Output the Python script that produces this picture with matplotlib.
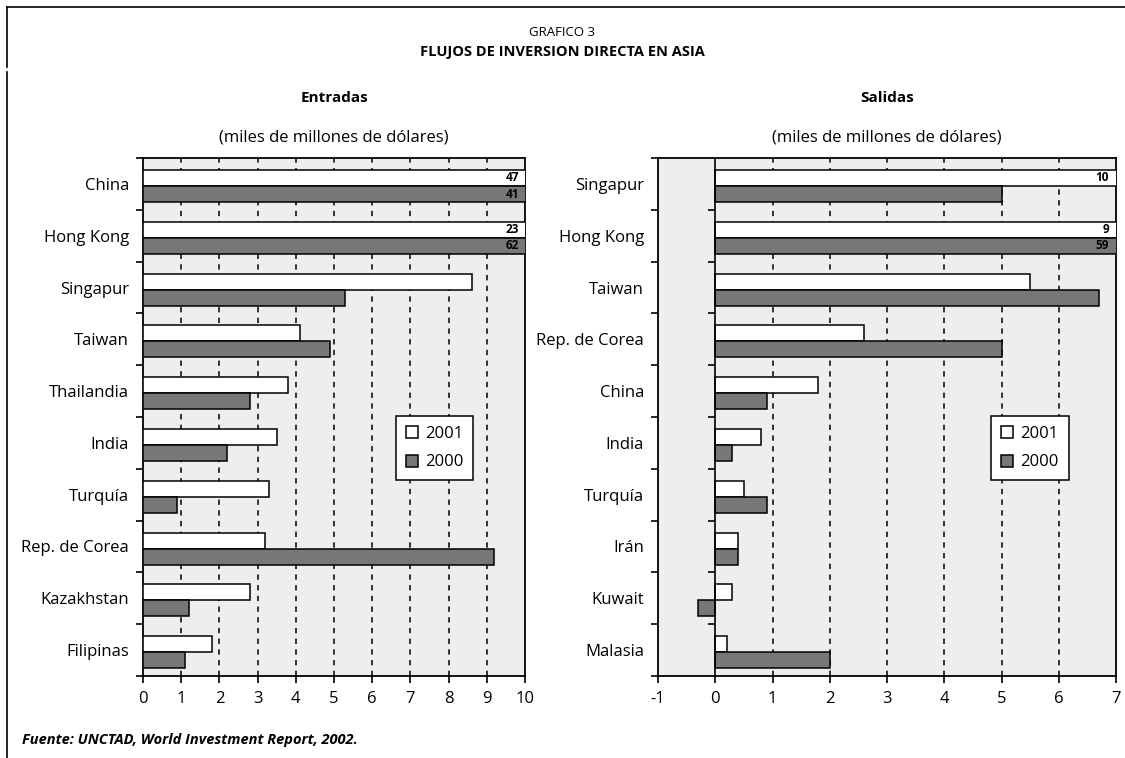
import matplotlib.pyplot as plt
import numpy as np

plt.rcParams['font.family'] = ['Open Sans', 'DejaVu Sans']
plt.rcParams['axes.unicode_minus'] = False

# inflows (miles de millones de dolares)
paises_entradas = ['China', 'Hong Kong', 'Singapur', 'Taiwan', 'Thailandia',
                   'India', 'Turquía', 'Rep. de Corea', 'Kazakhstan', 'Filipinas']
entradas_2001 = [47, 23, 8.6, 4.1, 3.8, 3.5, 3.3, 3.2, 2.8, 1.8]
entradas_2000 = [41, 62, 5.3, 4.9, 2.8, 2.2, 0.9, 9.2, 1.2, 1.1]

# outflows
paises_salidas = ['Singapur', 'Hong Kong', 'Taiwan', 'Rep. de Corea', 'China',
                  'India', 'Turquía', 'Irán', 'Kuwait', 'Malasia']
salidas_2001 = [10, 9, 5.5, 2.6, 1.8, 0.8, 0.5, 0.4, 0.3, 0.2]
salidas_2000 = [5.0, 59, 6.7, 5.0, 0.9, 0.3, 0.9, 0.4, -0.3, 2.0]

BG = '#eeeeee'
DARK = '#777777'
H = 0.31


def panel(ax, paises, v2001, v2000, xmin, xmax, titulo, leg_x):
    n = len(paises)
    y = np.arange(n)
    ax.set_facecolor(BG)
    ax.set_xlim(xmin, xmax)
    ax.set_ylim(n - 0.5, -0.5)

    # dashed grid at every whole number inside the frame
    for g in range(xmin + 1, xmax):
        if g == 0:
            continue
        ax.axvline(g, color='black', lw=1.1, ls=(0, (3.5, 3.5)), zorder=1)

    b1 = ax.barh(y - H / 2 + 0.04, v2001, height=H, color='white',
                 edgecolor='black', lw=1.1, zorder=3, label='2001')
    b0 = ax.barh(y + H / 2 + 0.04, v2000, height=H, color=DARK,
                 edgecolor='black', lw=1.1, zorder=3, label='2000')

    # values that run off the scale are written inside the bar end
    for i in range(n):
        for val, off in ((v2001[i], -H / 2), (v2000[i], H / 2)):
            if val > xmax:
                ax.text(0.985, i + off + 0.04, f'{val:g}',
                        transform=ax.get_yaxis_transform(), ha='right',
                        va='center', fontsize=8.5, fontweight='bold', zorder=5)

    if xmin < 0:
        ax.axvline(0, color='black', lw=1.2, zorder=4)
        ax.plot([0] * (n - 1), np.arange(n - 1) + 0.5, ls='', marker=0,
                ms=5, mew=1.2, color='black', zorder=4)

    ax.set_yticks(y)
    ax.set_yticklabels(paises, fontsize=12)
    ax.set_yticks(np.arange(n + 1) - 0.5, minor=True)
    ax.tick_params(axis='y', which='major', length=0, pad=10)
    ax.tick_params(axis='y', which='minor', length=5, width=1.2, direction='out')
    ax.set_xticks(range(xmin, xmax + 1))
    ax.tick_params(axis='x', length=5, width=1.2, labelsize=12, pad=6)
    for s in ax.spines.values():
        s.set_linewidth(1.3)
        s.set_color('black')

    ax.text(0.5, 1.0 + 60 / 518, titulo, transform=ax.transAxes, ha='center',
            va='center', fontsize=11, fontweight='bold')
    ax.text(0.5, 1.0 + 21 / 518, '(miles de millones de dólares)',
            transform=ax.transAxes, ha='center', va='center', fontsize=12)

    leg = ax.legend(handles=[b1, b0], loc='upper left',
                    bbox_to_anchor=(leg_x, 0.502), fontsize=12, frameon=True,
                    fancybox=False, framealpha=1, edgecolor='black',
                    handlelength=0.75, handleheight=0.75, handletextpad=0.4,
                    borderpad=0.6, labelspacing=0.75, borderaxespad=0)
    leg.get_frame().set_linewidth(1.1)
    leg.set_zorder(6)


fig = plt.figure(figsize=(11.25, 7.58), dpi=100)
ax1 = fig.add_axes([143 / 1125, 82 / 758, 382 / 1125, 518 / 758])
ax2 = fig.add_axes([658 / 1125, 82 / 758, 458 / 1125, 518 / 758])

panel(ax1, paises_entradas, entradas_2001, entradas_2000, 0, 10, 'Entradas', 0.662)
panel(ax2, paises_salidas, salidas_2001, salidas_2000, -1, 7, 'Salidas', 0.727)

fig.text(562 / 1125, 1 - 33 / 758, 'GRAFICO 3', ha='center', va='center',
         fontsize=9.5)
fig.text(562 / 1125, 1 - 52 / 758, 'FLUJOS DE INVERSION DIRECTA EN ASIA',
         ha='center', va='center', fontsize=10.5, fontweight='bold')
fig.text(22 / 1125, 1 - 740 / 758, 'Fuente: UNCTAD, World Investment Report, 2002.',
         ha='left', va='center', fontsize=10.5, fontweight='bold', style='italic')

# page frame: top and left rules
fig.add_artist(plt.Line2D([7 / 1125, 1], [1 - 7 / 758] * 2, color='black', lw=1.2))
fig.add_artist(plt.Line2D([7 / 1125] * 2, [1 - 67 / 758, 1 - 7 / 758],
                          color='black', lw=1.2))
fig.add_artist(plt.Line2D([7 / 1125] * 2, [0, 1 - 72 / 758],
                          color='black', lw=1.2))

fig.savefig('out.png', dpi=100)
